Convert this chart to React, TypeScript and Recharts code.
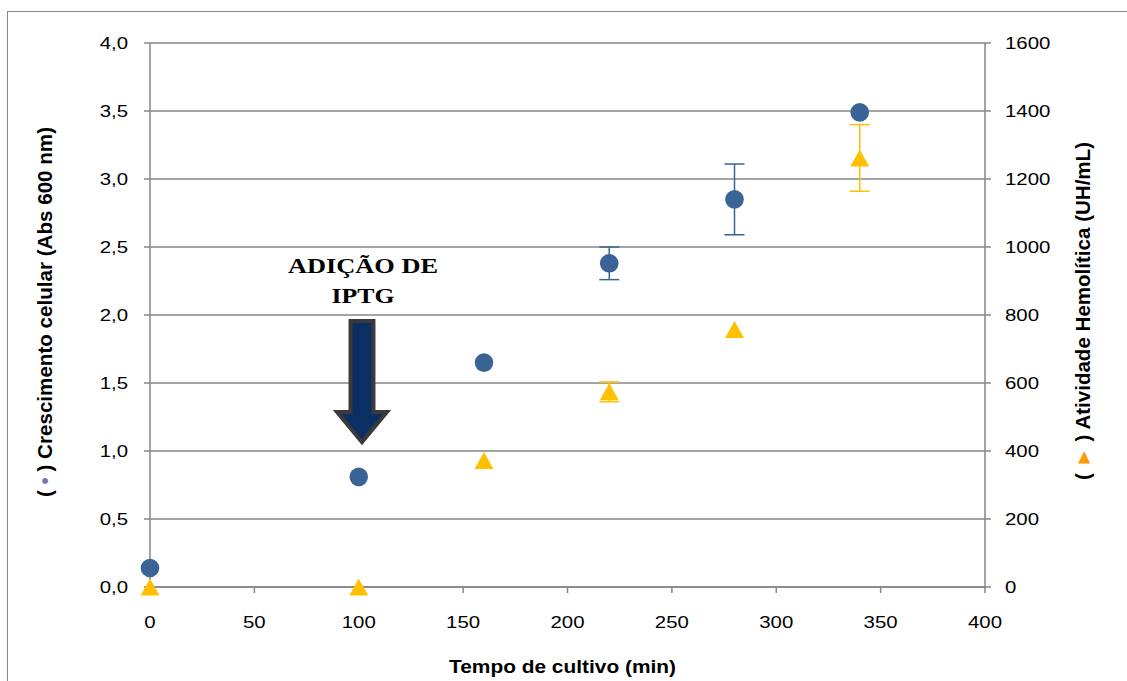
import React from 'react';
import {
  ComposedChart, Scatter, XAxis, YAxis, CartesianGrid, ErrorBar, ReferenceArea, Label,
} from 'recharts';

// ---- data ----
const timeMin = [0, 100, 160, 220, 280, 340];
const growthAbs = [0.14, 0.81, 1.65, 2.38, 2.85, 3.49];
const growthErr: (number | null)[] = [null, null, null, 0.12, 0.26, null];
const hemolyticUH = [0, 0, 372, 574, 757, 1262];
const hemolyticErr: (number | null)[] = [null, null, null, 29, null, 98];

const xTicks = [0, 50, 100, 150, 200, 250, 300, 350, 400];
const leftTicks = [0, 0.5, 1, 1.5, 2, 2.5, 3, 3.5, 4];
const rightTicks = [0, 200, 400, 600, 800, 1000, 1200, 1400, 1600];

const annotationLines = ['ADIÇÃO DE', 'IPTG'];
const iptgTime = [89.6, 113.5];
const iptgAbs = [1.066, 1.956];

const growthData = timeMin.map((t, i) => ({ t, v: growthAbs[i], e: growthErr[i] }));
const hemoData = timeMin.map((t, i) => ({ t, v: hemolyticUH[i], e: hemolyticErr[i] }));
const growthErrData = growthData.filter((d) => d.e != null);
const hemoErrData = hemoData.filter((d) => d.e != null);

const SANS = "'Liberation Sans', Arial, sans-serif";
const SERIF = "'Liberation Serif', 'Times New Roman', serif";
const GRID = '#868686';
const BLUE = '#3A6496';
const YELLOW = '#FFC000';

const fmtLeft = (v: number) => v.toFixed(1).replace('.', ',');

const LeftTick = (p: any) => (
  <text transform={`translate(${p.x},${p.y + 6}) scale(1.2,1)`} textAnchor="end" fontFamily={SANS} fontSize={17} fill="#000">
    {fmtLeft(p.payload.value)}
  </text>
);
const RightTick = (p: any) => (
  <text transform={`translate(${p.x},${p.y + 6}) scale(1.2,1)`} textAnchor="start" fontFamily={SANS} fontSize={17} fill="#000">
    {p.payload.value}
  </text>
);
const BottomTick = (p: any) => (
  <text transform={`translate(${p.x},${p.y + 35}) scale(1.2,1)`} textAnchor="middle" fontFamily={SANS} fontSize={17} fill="#000">
    {p.payload.value}
  </text>
);

const NoShape = () => <g />;
const CircleShape = (p: any) => <circle cx={p.cx} cy={p.cy} r={9.3} fill={BLUE} />;
const TriShape = (p: any) => {
  const { cx, cy } = p;
  const w = 9.5;
  const h = 8.5;
  return <polygon points={`${cx},${cy - h} ${cx + w},${cy + h} ${cx - w},${cy + h}`} fill={YELLOW} />;
};

const ArrowShape = (p: any) => {
  const { x, y, width, height } = p;
  const cx = x + width / 2;
  const sh = width * 0.23;
  const hs = y + height * 0.752;
  const pts = [
    [cx - sh, y], [cx + sh, y], [cx + sh, hs], [x + width, hs], [cx, y + height], [x, hs], [cx - sh, hs],
  ].map((q) => q.join(',')).join(' ');
  return (
    <g>
      <polygon points={pts} fill="#0B2F63" stroke="#3A3A3A" strokeWidth={4} strokeLinejoin="miter" />
      <text x={cx + 1} y={y - 48} textAnchor="middle" fontFamily={SERIF} fontWeight="bold" fontSize={22}
        textLength={150} lengthAdjust="spacingAndGlyphs" fill="#000">{annotationLines[0]}</text>
      <text x={cx + 1} y={y - 18} textAnchor="middle" fontFamily={SERIF} fontWeight="bold" fontSize={22}
        textLength={63} lengthAdjust="spacingAndGlyphs" fill="#000">{annotationLines[1]}</text>
    </g>
  );
};

const LeftTitle = (p: any) => {
  const vb = p.viewBox;
  const cy = vb.y + vb.height / 2 - 3;
  return (
    <text transform={`translate(52,${cy}) rotate(-90)`} textAnchor="middle" fontFamily={SANS} fontWeight="bold"
      fontSize={20} textLength={370} lengthAdjust="spacingAndGlyphs" fill="#000">
      <tspan>( </tspan><tspan fill="#7575AD">•</tspan><tspan> ) Crescimento celular (Abs 600 nm)</tspan>
    </text>
  );
};
const RightTitle = (p: any) => {
  const vb = p.viewBox;
  const cy = vb.y + vb.height / 2 - 4;
  return (
    <text transform={`translate(1090,${cy}) rotate(-90)`} textAnchor="middle" fontFamily={SANS} fontWeight="bold"
      fontSize={20} textLength={338} lengthAdjust="spacingAndGlyphs" fill="#000">
      <tspan>( </tspan><tspan fill="#FF9900">►</tspan><tspan> ) Atividade Hemolítica (UH/mL)</tspan>
    </text>
  );
};
const BottomTitle = (p: any) => {
  const vb = p.viewBox;
  const cx = vb.x + vb.width / 2 - 5;
  return (
    <text x={cx} y={673} textAnchor="middle" fontFamily={SANS} fontWeight="bold" fontSize={19}
      textLength={227} lengthAdjust="spacingAndGlyphs" fill="#000">Tempo de cultivo (min)</text>
  );
};

export default function App() {
  return (
    <div style={{ position: 'absolute', left: 0, top: 0, width: 1127, height: 681, overflow: 'hidden', background: '#fff' }}>
      <div style={{ position: 'absolute', left: 7, top: 11, width: 1200, height: 800, border: `1px solid ${GRID}` }} />
      <div style={{ position: 'absolute', left: 0, top: 0 }}>
        <ComposedChart width={1127} height={681} margin={{ top: 43, left: 70, right: 62, bottom: 54 }}>
          <CartesianGrid yAxisId="left" vertical={false} stroke={GRID} strokeWidth={1.5} />
          <XAxis type="number" dataKey="t" domain={[0, 400]} ticks={xTicks} height={40} tickSize={6} tickMargin={0}
            axisLine={{ stroke: GRID, strokeWidth: 1.5 }} tickLine={{ stroke: GRID, strokeWidth: 1.5 }} tick={<BottomTick />}>
            <Label content={<BottomTitle />} />
          </XAxis>
          <YAxis yAxisId="left" orientation="left" type="number" domain={[0, 4]} ticks={leftTicks} width={80}
            tickSize={6} tickMargin={16} axisLine={{ stroke: GRID, strokeWidth: 1.5 }} tickLine={{ stroke: GRID, strokeWidth: 1.5 }}
            tick={<LeftTick />}>
            <Label content={<LeftTitle />} />
          </YAxis>
          <YAxis yAxisId="right" orientation="right" type="number" domain={[0, 1600]} ticks={rightTicks} width={80}
            tickSize={6} tickMargin={14} axisLine={{ stroke: GRID, strokeWidth: 1.5 }} tickLine={{ stroke: GRID, strokeWidth: 1.5 }}
            tick={<RightTick />}>
            <Label content={<RightTitle />} />
          </YAxis>
          <ReferenceArea yAxisId="left" x1={iptgTime[0]} x2={iptgTime[1]} y1={iptgAbs[0]} y2={iptgAbs[1]}
            shape={<ArrowShape />} ifOverflow="visible" />
          <Scatter yAxisId="left" data={growthErrData} dataKey="v" shape={<NoShape />} isAnimationActive={false} legendType="none">
            <ErrorBar dataKey="e" direction="y" width={10} strokeWidth={1.5} stroke={BLUE} />
          </Scatter>
          <Scatter yAxisId="right" data={hemoErrData} dataKey="v" shape={<NoShape />} isAnimationActive={false} legendType="none">
            <ErrorBar dataKey="e" direction="y" width={10} strokeWidth={1.5} stroke={YELLOW} />
          </Scatter>
          <Scatter yAxisId="left" data={growthData} dataKey="v" shape={<CircleShape />} isAnimationActive={false} />
          <Scatter yAxisId="right" data={hemoData} dataKey="v" shape={<TriShape />} isAnimationActive={false} />
        </ComposedChart>
      </div>
    </div>
  );
}
